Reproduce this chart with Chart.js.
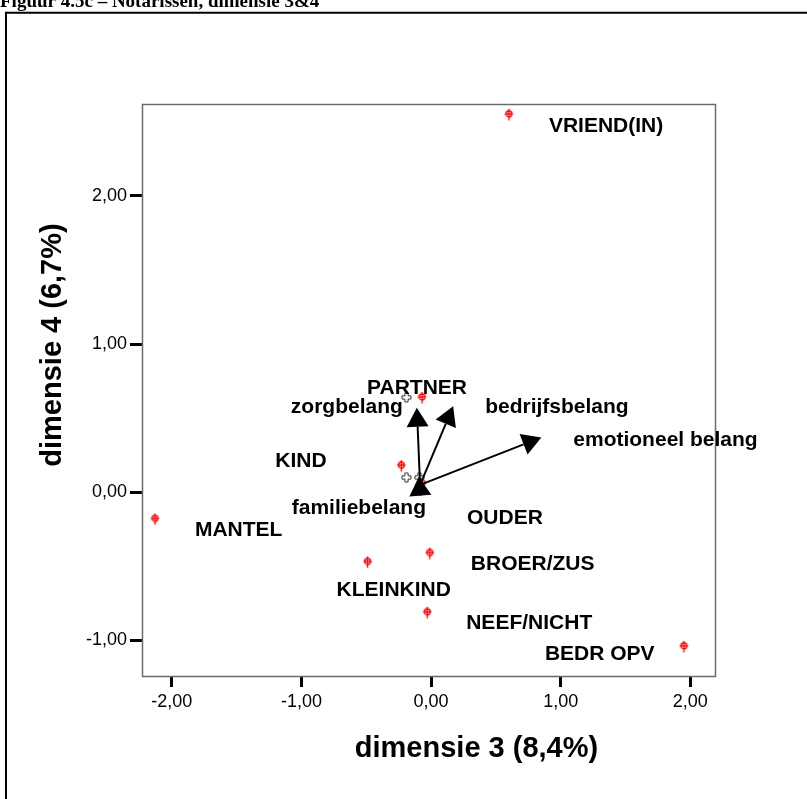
<!DOCTYPE html>
<html>
<head>
<meta charset="utf-8">
<title>Notarissen, dimensie 3&amp;4</title>
<script src="https://cdn.jsdelivr.net/npm/chart.js@4/dist/chart.umd.min.js"></script>
<style>
  html, body { margin: 0; padding: 0; background: #fff; }
  body { width: 807px; height: 799px; overflow: hidden; }
  canvas { display: block; }
</style>
</head>
<body>
<canvas id="biplot" width="807" height="799"></canvas>
<script>
// Category points (objectscores)
const pointNames = ['VRIEND(IN)', 'PARTNER', 'KIND', 'OUDER', 'MANTEL', 'BROER/ZUS', 'KLEINKIND', 'NEEF/NICHT', 'BEDR OPV'];
const pointX = [0.60, -0.07, -0.23, -0.07, -2.13, -0.01, -0.49, -0.03, 1.95];
const pointY = [2.55, 0.64, 0.18, 0.06, -0.18, -0.41, -0.47, -0.81, -1.04];

// Small outlined crosses near the vectors
const crossX = [-0.19, -0.19, -0.09];
const crossY = [0.64, 0.10, 0.10];

// Variable vectors
const vectorNames = ['zorgbelang', 'bedrijfsbelang', 'emotioneel belang', 'familiebelang'];
const vectorFromX = [-0.085, -0.085, -0.085, -0.085];
const vectorFromY = [0.05, 0.05, 0.05, 0.0];
const vectorToX = [-0.11, 0.17, 0.85, -0.095];
const vectorToY = [0.57, 0.58, 0.37, 0.105];

// Axes
const xTicks = [-2, -1, 0, 1, 2];
const yTicks = [-1, 0, 1, 2];
const xRange = [-2.23, 2.19];
const yRange = [-1.24, 2.62];
const xTitle = 'dimensie 3 (8,4%)';
const yTitle = 'dimensie 4 (6,7%)';
const caption = 'Figuur 4.5c \u2013 Notarissen, dimensie 3&4';

// label placement (pixels, relative to the mark), kept apart from the data
const pointLabelOffset = [[40, 18], [-55, -3], [-126, 1], [45, 41], [40, 17], [41, 17], [-31, 34], [39, 17], [-139, 14]];
const vectorLabelOffset = [[-126, 5], [32, 7], [32, 8.5], [-127, 37]];

const LABEL_FONT = 'bold 21px "Liberation Sans", Arial, sans-serif';
const TITLE_FONT = 'bold 29px "Liberation Sans", Arial, sans-serif';

function fmt(v) {
    return v.toFixed(2).replace('.', ',');
}

// red circle-with-cross marker
function makeRedMarker() {
    const c = document.createElement('canvas');
    c.width = 11;
    c.height = 13;
    const g = c.getContext('2d');
    g.strokeStyle = '#ff0000';
    g.lineWidth = 1.3;
    g.beginPath();
    g.arc(5.5, 6, 3, 0, Math.PI * 2);
    g.stroke();
    g.beginPath();
    g.moveTo(1.5, 6);
    g.lineTo(9.5, 6);
    g.moveTo(5.5, 1);
    g.lineTo(5.5, 12.5);
    g.stroke();
    return c;
}

// white plus with dark outline
function makeCrossMarker() {
    const c = document.createElement('canvas');
    c.width = 11;
    c.height = 11;
    const g = c.getContext('2d');
    const a = 1.6, l = 4.5, m = 5.5;
    g.beginPath();
    g.moveTo(m - a, m - l); g.lineTo(m + a, m - l); g.lineTo(m + a, m - a);
    g.lineTo(m + l, m - a); g.lineTo(m + l, m + a); g.lineTo(m + a, m + a);
    g.lineTo(m + a, m + l); g.lineTo(m - a, m + l); g.lineTo(m - a, m + a);
    g.lineTo(m - l, m + a); g.lineTo(m - l, m - a); g.lineTo(m - a, m - a);
    g.closePath();
    g.fillStyle = '#ffffff';
    g.fill();
    g.strokeStyle = '#333333';
    g.lineWidth = 1;
    g.stroke();
    return c;
}

function drawArrow(ctx, x1, y1, x2, y2) {
    const ang = Math.atan2(y2 - y1, x2 - x1);
    const len = 19, half = 11;
    const bx = x2 - len * Math.cos(ang), by = y2 - len * Math.sin(ang);
    ctx.beginPath();
    ctx.moveTo(x1, y1);
    ctx.lineTo(bx, by);
    ctx.stroke();
    ctx.beginPath();
    ctx.moveTo(x2, y2);
    ctx.lineTo(bx + half * Math.sin(ang), by - half * Math.cos(ang));
    ctx.lineTo(bx - half * Math.sin(ang), by + half * Math.cos(ang));
    ctx.closePath();
    ctx.fill();
}

const biplotPlugin = {
    id: 'biplot',
    beforeDraw(chart) {
        const ctx = chart.ctx;
        ctx.save();
        // outer frame
        ctx.strokeStyle = '#000';
        ctx.lineWidth = 2;
        ctx.beginPath();
        ctx.moveTo(6, chart.height);
        ctx.lineTo(6, 12.7);
        ctx.lineTo(chart.width, 12.7);
        ctx.stroke();
        // caption, cut off by the top of the page
        ctx.fillStyle = '#000';
        ctx.font = 'bold 19px "Liberation Serif", serif';
        ctx.textBaseline = 'alphabetic';
        ctx.fillText(caption, 0, 7);
        ctx.restore();
    },
    beforeDatasetsDraw(chart) {
        const {ctx, chartArea: a} = chart;
        ctx.save();
        ctx.strokeStyle = '#6a6a6a';
        ctx.lineWidth = 1.5;
        ctx.strokeRect(a.left + 0.5, a.top + 0.5, a.right - a.left, a.bottom - a.top);
        ctx.restore();
    },
    afterDatasetsDraw(chart) {
        const {ctx, scales: {x, y}} = chart;
        ctx.save();
        ctx.strokeStyle = '#000';
        ctx.fillStyle = '#000';
        ctx.lineWidth = 2;
        vectorNames.forEach((name, i) => {
            drawArrow(ctx,
                x.getPixelForValue(vectorFromX[i]), y.getPixelForValue(vectorFromY[i]),
                x.getPixelForValue(vectorToX[i]), y.getPixelForValue(vectorToY[i]));
        });

        ctx.font = LABEL_FONT;
        ctx.textAlign = 'left';
        ctx.textBaseline = 'alphabetic';
        pointNames.forEach((name, i) => {
            const px = x.getPixelForValue(pointX[i]);
            const py = y.getPixelForValue(pointY[i]);
            ctx.fillText(name, px + pointLabelOffset[i][0], py + pointLabelOffset[i][1]);
        });
        vectorNames.forEach((name, i) => {
            const px = x.getPixelForValue(vectorToX[i]);
            const py = y.getPixelForValue(vectorToY[i]);
            ctx.fillText(name, px + vectorLabelOffset[i][0], py + vectorLabelOffset[i][1]);
        });

        // axis titles
        ctx.font = TITLE_FONT;
        ctx.textAlign = 'center';
        ctx.fillText(xTitle, 476.5, 757);
        ctx.translate(61, 345);
        ctx.rotate(-Math.PI / 2);
        ctx.fillText(yTitle, 0, 0);
        ctx.restore();
    }
};

const tickFont = {family: '"Liberation Sans", Arial, sans-serif', size: 18};

new Chart(document.getElementById('biplot'), {
    type: 'scatter',
    data: {
        datasets: [
            {
                label: 'categorie',
                data: pointX.map((v, i) => ({x: v, y: pointY[i]})),
                pointStyle: makeRedMarker(),
                pointRadius: 4
            },
            {
                label: 'kruis',
                data: crossX.map((v, i) => ({x: v, y: crossY[i]})),
                pointStyle: makeCrossMarker(),
                pointRadius: 4
            }
        ]
    },
    options: {
        responsive: false,
        devicePixelRatio: 1,
        animation: false,
        layout: {padding: {left: 0, top: 104, right: 92, bottom: 0}},
        plugins: {legend: {display: false}, tooltip: {enabled: false}},
        scales: {
            x: {
                type: 'linear',
                min: xRange[0],
                max: xRange[1],
                afterBuildTicks: s => { s.ticks = xTicks.map(v => ({value: v})); },
                afterFit: s => { s.height = 123; },
                border: {display: false},
                grid: {drawOnChartArea: false, drawTicks: true, tickLength: 11, tickWidth: 3, tickColor: '#000'},
                ticks: {color: '#000', font: tickFont, padding: 4, maxRotation: 0, callback: v => fmt(v)}
            },
            y: {
                type: 'linear',
                min: yRange[0],
                max: yRange[1],
                afterBuildTicks: s => { s.ticks = yTicks.map(v => ({value: v})); },
                afterFit: s => { s.width = 142; },
                border: {display: false},
                grid: {drawOnChartArea: false, drawTicks: true, tickLength: 12, tickWidth: 3, tickColor: '#000'},
                ticks: {color: '#000', font: tickFont, padding: 3, callback: v => fmt(v)}
            }
        }
    },
    plugins: [biplotPlugin]
});
</script>
</body>
</html>
